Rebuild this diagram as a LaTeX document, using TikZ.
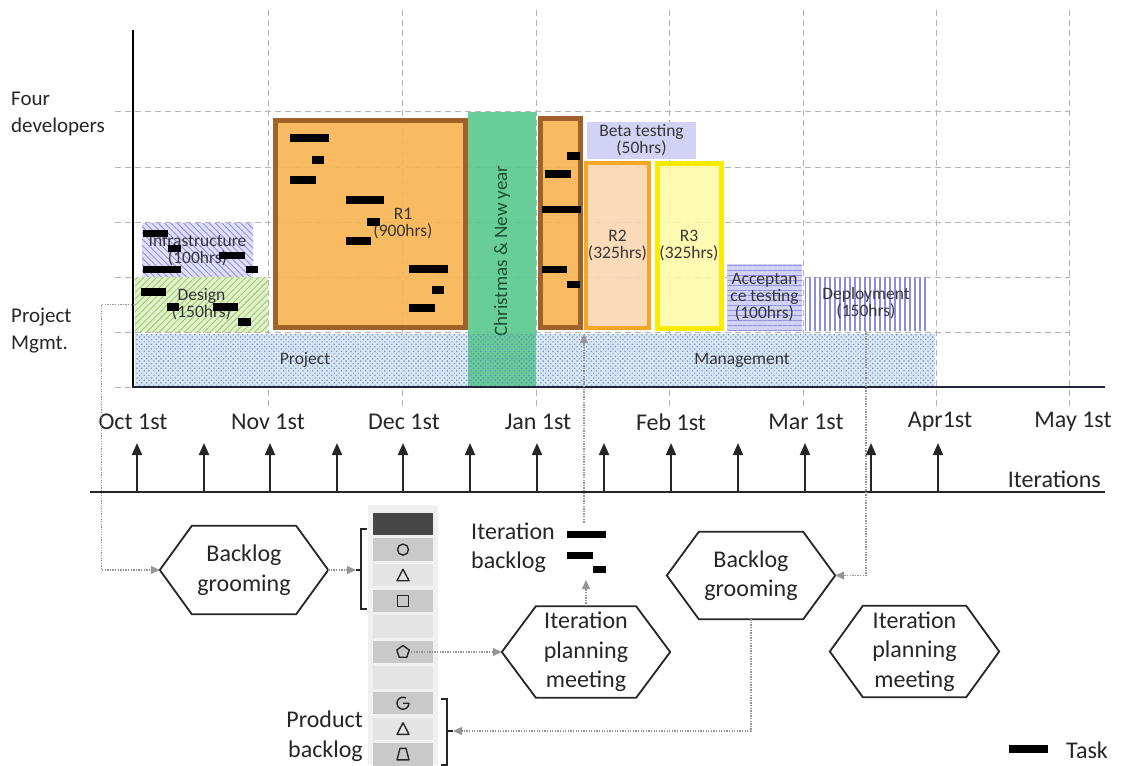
\documentclass[tikz,border=0pt]{standalone}
\usepackage{fontspec}
\setmainfont{Carlito}
\usetikzlibrary{arrows.meta,patterns.meta}

\definecolor{gridc}{HTML}{B4B4B4}
\definecolor{conc}{HTML}{959595}
\definecolor{ink}{HTML}{262626}
\definecolor{chartink}{HTML}{363636}
\definecolor{orng}{HTML}{F8B450}
\definecolor{brwn}{HTML}{A0622B}
\definecolor{peach}{HTML}{FBD6B3}
\definecolor{orng2}{HTML}{F6A623}
\definecolor{lyel}{HTML}{FFF9A8}
\definecolor{yel}{HTML}{FAEB00}
\definecolor{lav}{HTML}{CDCDF4}
\definecolor{lavline}{HTML}{8E8EE0}
\definecolor{infbg}{HTML}{DCDCF6}
\definecolor{dsgbg}{HTML}{DDEFC6}
\definecolor{dsgline}{HTML}{9CCB6C}
\definecolor{xmas}{HTML}{5BC98E}
\definecolor{xmasink}{HTML}{1C4F35}
\definecolor{bandbg}{HTML}{D9E6F4}
\definecolor{banddot}{HTML}{6A8CC4}
\definecolor{axisc}{HTML}{1E2638}
\definecolor{rowdark}{HTML}{474747}
\definecolor{rowmid}{HTML}{C9C9C9}
\definecolor{rowlight}{HTML}{E4E4E4}
\definecolor{colbg}{HTML}{F0F0F0}

\newcommand{\fbig}{\fontsize{24}{29.5}\selectfont}
\newcommand{\fmonth}{\fontsize{24}{28}\selectfont}
\newcommand{\fside}{\fontsize{21}{27}\selectfont}
\newcommand{\fchart}{\fontsize{17.5}{17}\selectfont}
\newcommand{\fxmas}{\fontsize{19}{22}\selectfont}

% hexagonal frame drawn around a rectangular node
\newcommand{\hexframe}[2]{%
  \draw[hexline] (#1.west) -- ([xshift=#2]#1.north west) -- ([xshift=-#2]#1.north east)
    -- (#1.east) -- ([xshift=-#2]#1.south east) -- ([xshift=#2]#1.south west) -- cycle;}

\begin{document}
\begin{tikzpicture}[x=1pt,y=-1pt,
  grid/.style={draw=gridc, line width=1pt, dash pattern=on 6pt off 4pt},
  conn/.style={draw=conc, line width=1.3pt, dash pattern=on 1.3pt off 1.3pt,
    -{Triangle[length=9pt,width=8pt,fill=conc]}},
  itarrow/.style={draw=ink, line width=2pt, -{Triangle[length=12pt,width=10pt]}},
  block/.style={inner sep=0pt, anchor=center, align=center, font=\fchart, text=chartink},
  chartlbl/.style={inner sep=0pt, align=center, font=\fchart, text=chartink},
  month/.style={inner sep=0pt, font=\fmonth, text=ink},
  side/.style={inner sep=0pt, anchor=west, align=left, font=\fside, text=ink},
  hexnode/.style={minimum width=168pt, inner sep=0pt, align=center, font=\fbig, text=ink},
  hexline/.style={draw=ink, line width=1.8pt, line join=miter},
  rowbox/.style={minimum width=60pt, minimum height=22.5pt, inner sep=0pt, draw=none},
  sym/.style={draw=ink, line width=1.4pt, line join=round},
  brk/.style={draw=ink, line width=1.6pt},
  taskbar/.style={fill=black, minimum height=7.5pt, inner sep=0pt}]
\useasboundingbox (0,0) rectangle (1131,765);

% ---------- grid ----------
\foreach \y in {112,167,222,277,332,387}{\draw[grid] (115,\y) -- (1070,\y);}
\foreach \x in {268,402,536,669,803,936,1069}{\draw[grid] (\x,10) -- (\x,407);}

% ---------- project management band (background) ----------
\fill[bandbg] (135,334) rectangle (935,387);

% ---------- work blocks ----------
\node[block, minimum width=111pt, minimum height=54pt, preaction={fill=infbg, fill opacity=0.9},
  pattern={Lines[angle=-45,distance=4.5pt,line width=0.9pt]}, pattern color=lavline] (infra) at (197.5,250) {Infrastructure\\(100hrs)};
\node[block, minimum width=133pt, minimum height=55pt, preaction={fill=dsgbg, fill opacity=0.9},
  pattern={Lines[angle=45,distance=4.5pt,line width=0.9pt]}, pattern color=dsgline] (dsgn) at (201.5,304.5) {Design\\(150hrs)};

\node[block, minimum width=190pt, minimum height=207pt, fill=orng, fill opacity=0.9, text opacity=1,
  draw=brwn, line width=5pt] (r1) at (370.5,224) {};
\node[chartlbl] (r1lbl) at (403,224) {R1\\(900hrs)};

\node[block, minimum width=68pt, minimum height=275pt, fill=xmas, fill opacity=0.92] (xmas) at (502,249.5) {};
\node[rotate=90, inner sep=0pt, font=\fxmas, text=xmasink] (xmaslbl) at (502,251) {Christmas \& New year};

\node[block, minimum width=40pt, minimum height=209pt, fill=orng, fill opacity=0.9,
  draw=brwn, line width=5pt] (jan) at (560.5,223) {};

\node[block, minimum width=109pt, minimum height=37pt, fill=lav, fill opacity=0.9, text opacity=1] (beta) at (641.5,140.5) {Beta testing\\(50hrs)};
\node[block, minimum width=63pt, minimum height=165pt, fill=peach, fill opacity=0.9, text opacity=1,
  draw=orng2, line width=4pt] (r2) at (617.5,245.5) {R2\\(325hrs)};
\node[block, minimum width=64pt, minimum height=165pt, fill=lyel, fill opacity=0.9, text opacity=1,
  draw=yel, line width=5pt] (r3) at (689,245.5) {R3\\(325hrs)};
\node[block, minimum width=75pt, minimum height=66pt, preaction={fill=lav, fill opacity=0.9},
  pattern={Lines[angle=0,distance=5pt,line width=0.9pt]}, pattern color=lavline] (accept) at (764.5,297) {Acceptan\\ce testing\\(100hrs)};
\node[block, minimum width=122pt, minimum height=53pt,
  pattern={Lines[angle=90,distance=5pt,line width=1.2pt]}, pattern color=lavline] (deploy) at (866,303.5) {Deployment\\(150hrs)};

% ---------- project management band (dots) ----------
\path[pattern={Dots[angle=45,distance=3.4pt,radius=0.85pt]}, pattern color=banddot] (135,334) rectangle (935,387);
\node[chartlbl] (projlbl) at (305,360) {Project};
\node[chartlbl] (mgmtlbl) at (742,360) {Management};

% ---------- tasks ----------
\foreach \a/\b/\c/\d in {
  290/134/329/142, 312/156/324/164, 290/176/316/184,
  346/196/384/204, 367/218/380/226, 346/237/371/245,
  409/265/448/273, 432/286/444/294, 409/304/435/312,
  567/152/580/160, 545/170/571/178, 542/206/581/213, 542/266/567/273, 567/281/580/288,
  143/230/168/237, 168/245/181/252, 143/266/181/273, 219/252/245/259, 246/266/258/273,
  141/288/166/296, 167/303/179/311, 213/303/238/311, 238/318/251/326}
  {\fill[black] (\a,\b) rectangle (\c,\d);}

% ---------- axes ----------
\draw[black, line width=2pt] (133,30) -- (133,388);
\draw[axisc, line width=2pt] (132,387) -- (1105,387);

% ---------- row labels ----------
\node[side] (fourdev) at (11,114) {Four\\developers};
\node[side] (pmgmt) at (11,331) {Project\\Mgmt.};

% ---------- months ----------
\node[month] (oct) at (133,422) {Oct 1st};
\node[month] (nov) at (268,422) {Nov 1st};
\node[month] (dec) at (404,422) {Dec 1st};
\node[month] (jan1) at (538,422) {Jan 1st};
\node[month] (feb) at (671,422) {Feb 1st};
\node[month] (mar) at (806,422) {Mar 1st};
\node[month] (apr) at (940,422) {Apr1st};
\node[month] (may) at (1073,422) {May 1st};

% ---------- iterations ----------
\draw[ink, line width=2pt] (90,492) -- (1105,492);
\foreach \x in {137,204,270,337,403,470,537,604,671,738,805,871,938}
  {\draw[itarrow] (\x,492) -- (\x,443);}
\node[month, anchor=east] (iterlbl) at (1101,479) {Iterations};

% ---------- backlog column ----------
\fill[colbg] (368,505) rectangle (438,765);
\foreach \i/\c in {0/rowdark,1/rowmid,2/rowlight,3/rowmid,4/rowlight,5/rowmid,6/rowlight,7/rowmid,8/rowlight,9/rowmid}
  {\node[rowbox, fill=\c] (row\i) at (403,{524+25.6*\i}) {};}
\draw[sym] (row1.center) circle[radius=5.5];
\draw[sym] ([shift={(-6,5.5)}]row2.center) -- ([shift={(6,5.5)}]row2.center) -- ([shift={(0,-6)}]row2.center) -- cycle;
\draw[sym] ([shift={(-5.5,-5.5)}]row3.center) rectangle ([shift={(5.5,5.5)}]row3.center);
\draw[sym] ([shift={(-90:6.5)}]row5.center) -- ([shift={(-18:6.5)}]row5.center) -- ([shift={(54:6.5)}]row5.center)
  -- ([shift={(126:6.5)}]row5.center) -- ([shift={(198:6.5)}]row5.center) -- cycle;
\draw[sym] ([shift={(-60:6)}]row7.center) arc[start angle=-60, end angle=-360, radius=6] -- (row7.center);
\draw[sym] ([shift={(-6,5.5)}]row8.center) -- ([shift={(6,5.5)}]row8.center) -- ([shift={(0,-6)}]row8.center) -- cycle;
\draw[sym] ([shift={(-6,5.5)}]row9.center) -- ([shift={(6,5.5)}]row9.center) -- ([shift={(3,-6)}]row9.center) -- ([shift={(-3,-6)}]row9.center) -- cycle;
\coordinate (pent) at (411,652);

% brackets
\draw[brk] (367,529) -- (361,529) -- (361,609) -- (367,609);
\draw[brk] (361,570) -- (356,570);
\coordinate (brI) at (356,570);
\draw[brk] (441,699) -- (447,699) -- (447,765) -- (441,765);
\draw[brk] (447,731) -- (453,731);
\coordinate (brP) at (453,731);

\node[anchor=east, inner sep=0pt, align=right, font=\fbig, text=ink] (prodlbl) at (363,736) {Product\\backlog};

% iteration backlog
\node[anchor=west, inner sep=0pt, align=left, font=\fbig, text=ink] (iblbl) at (471,548) {Iteration\\backlog};
\node[taskbar, minimum width=39pt] (ib1) at (586.5,534.5) {};
\fill[black] (567,552) rectangle (593,559);
\fill[black] (593,566) rectangle (606,573);
\coordinate (ibk) at (586,580);

% ---------- meetings ----------
\node[hexnode, minimum height=88pt] (bg1) at (244,570) {Backlog\\grooming};
\hexframe{bg1}{32pt}
\node[hexnode, minimum height=91pt] (ipm1) at (586,652) {Iteration\\planning\\meeting};
\hexframe{ipm1}{34pt}
\node[hexnode, minimum height=87pt] (bg2) at (751,575.5) {Backlog\\grooming};
\hexframe{bg2}{32pt}
\node[hexnode, minimum width=169pt, minimum height=91pt] (ipm2) at (914.5,651.5) {Iteration\\planning\\meeting};
\hexframe{ipm2}{33pt}

% ---------- flows ----------
\draw[conn] (dsgn.west) -- ++(-33,0) |- (bg1.west);
\draw[conn] (bg1.east) -- (brI);
\draw[conn] (pent) -- (ipm1.west);
\draw[conn] (ipm1.north) -- (ibk);
\draw[conn, shorten <=8pt, shorten >=4pt] (ib1.north -| r2.south west) -- (r2.south west);
\draw[conn] (deploy.south) |- (bg2.east);
\draw[conn] (bg2.south) |- (brP);

% ---------- legend ----------
\node[taskbar, minimum width=39pt] (legbar) at (1028.5,749) {};
\node[anchor=west, inner sep=0pt, font=\fbig, text=ink] (leglbl) at (1066,750) {Task};
\end{tikzpicture}
\end{document}
